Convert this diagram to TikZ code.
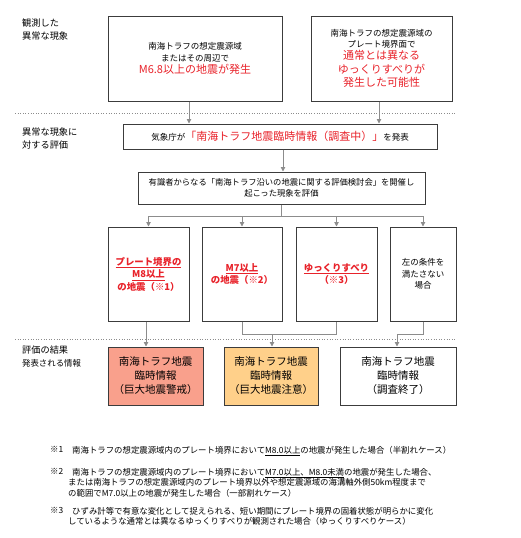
\documentclass[tikz,border=0pt]{standalone}
\usepackage{fontspec}
\setmainfont{Noto Sans CJK JP}
\usetikzlibrary{arrows.meta}
\definecolor{jred}{HTML}{E8222A}
\definecolor{lgray}{HTML}{8C8C8C}
\definecolor{bdr}{HTML}{3C3C3C}
\definecolor{salmonfill}{HTML}{F9A08C}
\definecolor{peachfill}{HTML}{FFD08A}
\newcommand\bigred{\fontsize{11}{14}\selectfont\color{jred}}
\begin{document}
\begin{tikzpicture}[x=1pt,y=-1pt,
  box/.style={draw=bdr, line width=1pt, inner sep=0pt, align=center},
  conn/.style={draw=lgray, line width=0.9pt},
  arr/.style={conn, -{Triangle[length=4.5pt,width=4.5pt]}},
  sep/.style={draw=lgray, line width=0.6pt, dotted},
  lbl/.style={anchor=north west, inner sep=0pt, align=left, font=\fontsize{9.2}{12.5}\selectfont},
  fn/.style={anchor=north west, inner sep=0pt, align=left, font=\fontsize{8.4}{10.6}\selectfont},
  casered/.style={font=\fontsize{9.4}{12.5}\selectfont\bfseries, text=jred},
  res/.style={font=\fontsize{10.5}{14}\selectfont}
]
\useasboundingbox (0,0) rectangle (520,538);

% left labels
\node[lbl] (l1) at (22,19) {観測した\\異常な現象};
\node[lbl] (l2) at (22,128) {異常な現象に\\対する評価};
\node[lbl] (l3) at (22,346) {評価の結果\\\fontsize{8.4}{10}\selectfont 発表される情報};

% separators
\coordinate (s1a) at (15,113); \coordinate (s1b) at (456,113);
\coordinate (s2a) at (15,339); \coordinate (s2b) at (456,339);
\draw[sep] (s1a) -- (s1b);
\draw[sep] (s2a) -- (s2b);

% top boxes
\node[box, font=\fontsize{8.5}{11.5}\selectfont, minimum width=174pt, minimum height=85pt] (b1) at (195,58.5)
 {南海トラフの想定震源域\\またはその周辺で\\[1pt]\bigred M6.8以上の地震が発生};
\node[box, font=\fontsize{8.5}{10.5}\selectfont, minimum width=141pt, minimum height=85pt] (b2) at (381.5,58.5)
 {南海トラフの想定震源域の\\プレート境界面で\\[2pt]\bigred 通常とは異なる\\[3pt]\bigred ゆっくりすべりが\\[3pt]\bigred 発生した可能性};

% JMA box
\node[box, font=\fontsize{8.5}{11}\selectfont, minimum width=314pt, minimum height=25pt] (jma) at (280,136.5)
 {気象庁が{\bigred 「南海トラフ地震臨時情報（調査中）」}を発表};

% evaluation box
\node[box, font=\fontsize{8.3}{10.5}\selectfont, minimum width=287pt, minimum height=32pt] (ev) at (281.5,188)
 {有識者からなる「南海トラフ沿いの地震に関する評価検討会」を開催し\\起こった現象を評価};

% four case boxes
\node[box, casered, minimum width=81pt, minimum height=94pt] (ca) at (148.5,274)
 {\underline{プレート境界の}\\\underline{M8以上}\\の地震（※1）};
\node[box, casered, minimum width=80pt, minimum height=94pt] (cb) at (242,274)
 {\underline{M7以上}\\の地震（※2）};
\node[box, casered, minimum width=81pt, minimum height=94pt] (cc) at (336.5,274)
 {\underline{ゆっくりすべり}\\（※3）};
\node[box, font=\fontsize{8.5}{11.5}\selectfont, minimum width=66pt, minimum height=94pt] (cd) at (423,274)
 {左の条件を\\満たさない\\場合};

% result boxes
\node[box, res, fill=salmonfill, minimum width=95pt, minimum height=58pt] (r1) at (155.5,376)
 {南海トラフ地震\\臨時情報\\（巨大地震警戒）};
\node[box, res, fill=peachfill, minimum width=94pt, minimum height=58pt] (r2) at (271,376)
 {南海トラフ地震\\臨時情報\\（巨大地震注意）};
\node[box, res, minimum width=116pt, minimum height=58pt] (r3) at (398,376)
 {南海トラフ地震\\臨時情報\\（調査終了）};

% connectors top
\draw[arr] ([xshift=-6pt]b1.south) -- ([xshift=-6pt]b1.south |- jma.north);
\draw[arr] ([xshift=-2.5pt]b2.south) -- ([xshift=-2.5pt]b2.south |- jma.north);
\draw[arr] ([xshift=3pt]jma.south) -- ([xshift=3pt]jma.south |- ev.north);

% branch to four boxes
\coordinate (bh) at (ev.south |- 0,216);
\draw[conn] (ev.south) -- (bh);
\draw[conn] (ca.north |- bh) -- (cd.north |- bh);
\draw[arr] (ca.north |- bh) -- (ca.north);
\draw[arr] (cb.north |- bh) -- (cb.north);
\draw[arr] (cc.north |- bh) -- (cc.north);
\draw[arr] (cd.north |- bh) -- (cd.north);

% to results
\draw[arr] ([xshift=-2.5pt]ca.south) -- ([xshift=-2.5pt]ca.south |- r1.north);
\coordinate (jh) at (0,334);
\draw[conn] (cb.south) -- (cb.south |- jh) -- (cc.south |- jh) -- (cc.south);
\draw[arr] ([xshift=1pt]r2.north |- jh) -- ([xshift=1pt]r2.north);
\draw[conn] (cd.south) -- (cd.south |- jh) -- ([xshift=-1pt]r3.north |- jh);
\draw[arr] ([xshift=-1pt]r3.north |- jh) -- ([xshift=-1pt]r3.north);

% footnotes
\node[fn] (f1m) at (50,446) {※1};
\node[fn] (f1) at (72,446) {南海トラフの想定震源域内のプレート境界において\underline{M8.0以上}の地震が発生した場合（半割れケース）};
\node[fn] (f2m) at (50,468) {※2};
\node[fn] (f2) at (68,468) {\hspace{4pt}南海トラフの想定震源域内のプレート境界において\underline{M7.0以上、M8.0未満}の地震が発生した場合、\\または南海トラフの想定震源域内のプレート境界以外や想定震源域の海溝軸外側50km程度まで\\の範囲でM7.0以上の地震が発生した場合（一部割れケース）};
\node[fn] (f3m) at (50,507) {※3};
\node[fn] (f3) at (68,507) {\hspace{4pt}ひずみ計等で有意な変化として捉えられる、短い期間にプレート境界の固着状態が明らかに変化\\しているような通常とは異なるゆっくりすべりが観測された場合（ゆっくりすべりケース）};
\end{tikzpicture}
\end{document}
